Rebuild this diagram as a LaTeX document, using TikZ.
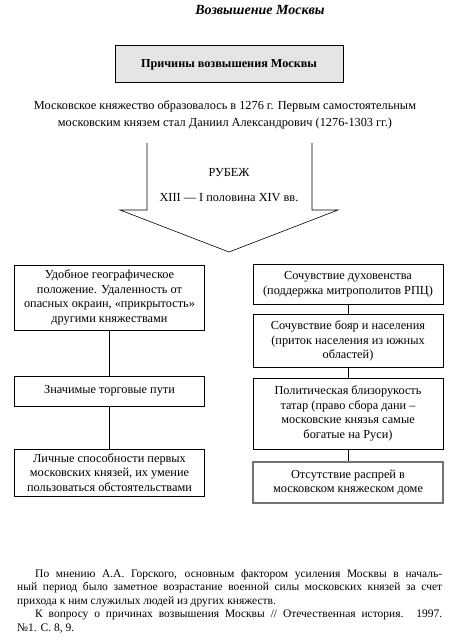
\documentclass[tikz,border=0pt]{standalone}
\usepackage{fontspec}
\setmainfont{Liberation Serif}
\usetikzlibrary{positioning}
\tikzset{
  headbox/.style={rectangle, draw=black, line width=1pt, fill=black!10, minimum width=228pt, minimum height=37pt, font=\bfseries\fontsize{12.2}{14}\selectfont},
  causebox/.style={rectangle, draw=black, line width=0.8pt, minimum width=190pt, minimum height=#1, align=center, inner sep=2pt, font=\fontsize{12.3}{14.8}\selectfont},
  causebox/.default=30pt,
  plaintext/.style={align=center, inner sep=1pt, font=\fontsize{12.3}{17}\selectfont},
  link/.style={line width=0.8pt}
}

\begin{document}
\begin{tikzpicture}[x=1pt, y=1pt]

\path[fill=white] (0,0) rectangle (458,-644);
\useasboundingbox (0,0) rectangle (458,-644);

% Title and heading box
\node[font=\bfseries\itshape\fontsize{14}{16}\selectfont] (title) at (260,-10) {Возвышение Москвы};
\node[headbox] (head) at (229,-64.5) {Причины возвышения Москвы};

\node[plaintext] (intro) at (225,-115) {Московское княжество образовалось в 1276 г. Первым самостоятельным\\
  московским князем стал Даниил Александрович (1276-1303 гг.)};

% Big open arrow
\draw[line width=0.6pt] (147,-143) -- (147,-210) -- (120,-210) -- (229,-252)
  -- (338,-210) -- (312,-210) -- (312,-143);
\node[plaintext] (rubezh) at (229,-173) {РУБЕЖ};
\node[plaintext, below=14pt of rubezh] (period) {XIII — I половина XIV вв.};

% Left column
\node[causebox=65pt] (left1) at (109.5,-297.5) {Удобное географическое\\ положение. Удаленность от\\ опасных окраин, «прикрытость»\\ другими княжествами};
\node[causebox=30pt] (left2) at (109.5,-391) {Значимые торговые пути};
\node[causebox=47pt] (left3) at (109.5,-472.5) {Личные способности первых\\ московских князей, их умение\\ пользоваться обстоятельствами};

\draw[link] (left1) -- (left2);
\draw[link] (left2) -- (left3);

% Right column
\node[causebox=40pt] (right1) at (348,-284) {Сочувствие духовенства\\ (поддержка митрополитов РПЦ)};
\node[causebox=53pt] (right2) at (348,-341) {Сочувствие бояр и населения\\ (приток населения из южных\\ областей)};
\node[causebox=71pt] (right3) at (348,-413.5) {Политическая близорукость\\ татар (право сбора дани –\\ московские князья самые\\ богатые на Руси)};
\node[causebox=41pt, draw=black!55, line width=1.1pt] (right4) at (348,-482.5) {Отсутствие распрей в\\ московском княжеском доме};

\draw[link] (right1) -- (right2);
\draw[link] (right2) -- (right3);
\draw[link] (right3) -- (right4);

% Note below
\node[anchor=north west, text width=425pt, align=justify, inner sep=0pt, font=\fontsize{11.5}{13.6}\selectfont] (note) at (17,-569) {\hyphenpenalty=10000
  \hspace*{18pt}По мнению А.А. Горского, основным фактором усиления Москвы в началь-\linebreak
  ный период было заметное возрастание военной силы московских князей за счет\linebreak
  прихода к ним служилых людей из других княжеств.\par
  \hspace*{18pt}К вопросу о причинах возвышения Москвы // Отечественная история. 1997.\linebreak
  №1. С. 8, 9.};

\end{tikzpicture}
\end{document}
